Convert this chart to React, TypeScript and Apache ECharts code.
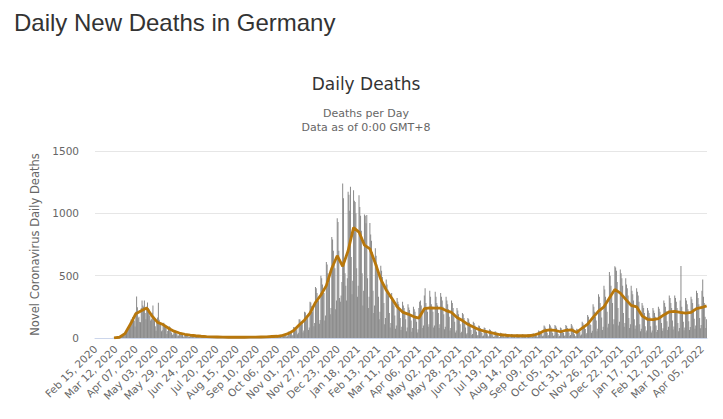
import * as echarts from 'echarts';
import React, { useEffect, useRef } from 'react';

// one row per week, each week starts on a Saturday (Feb 15, 2020)
const firstWave2020 = [
  0, 0, 0, 0, 0, 0, 0,
  0, 0, 0, 0, 0, 0, 0,
  0, 0, 0, 0, 0, 0, 0,
  0, 0, 2, 0, 1, 1, 3,
  3, 4, 5, 4, 8, 11, 23,
  24, 23, 29, 35, 49, 55, 72,
  84, 90, 104, 128, 149, 140, 168,
  169, 140, 92, 210, 333, 246, 160,
  171, 129, 126, 240, 301, 260, 250,
  300, 200, 150, 250, 285, 240, 230,
  179, 140, 150, 202, 260, 173, 160,
  94, 59, 139, 165, 282, 147, 118,
  110, 54, 62, 116, 123, 101, 90,
  77, 33, 56, 83, 95, 89, 57,
  43, 24, 30, 47, 62, 52, 38,
  30, 15, 20, 35, 40, 30, 32,
  24, 10, 12, 30, 33, 26, 21,
  18, 8, 9, 24, 26, 20, 17,
  14, 6, 7, 18, 20, 16, 13,
  11, 4, 5, 14, 15, 12, 10,
];

const summer2020 = [
  9, 3, 4, 11, 12, 9, 8,
  7, 2, 3, 9, 10, 8, 7,
  6, 2, 3, 8, 9, 7, 6,
  5, 1, 2, 7, 8, 6, 5,
  5, 1, 2, 7, 8, 6, 5,
  5, 1, 2, 6, 7, 6, 5,
  5, 1, 3, 7, 8, 6, 5,
  5, 2, 3, 8, 8, 7, 6,
  6, 2, 3, 9, 9, 8, 6,
  6, 2, 3, 9, 10, 8, 7,
  7, 2, 4, 11, 11, 9, 7,
  8, 3, 4, 12, 13, 11, 9,
  10, 3, 5, 16, 17, 14, 11,
  12, 4, 6, 20, 21, 17, 14,
];

const secondWave = [
  18, 6, 9, 32, 33, 27, 22,
  30, 10, 14, 50, 52, 44, 36,
  52, 18, 25, 88, 85, 75, 62,
  90, 30, 42, 150, 148, 130, 110,
  125, 45, 60, 210, 205, 180, 150,
  175, 65, 85, 290, 285, 255, 210,
  245, 95, 120, 410, 400, 360, 300,
  300, 115, 145, 500, 480, 430, 360,
  360, 140, 180, 610, 590, 520, 440,
  480, 190, 240, 810, 790, 700, 590,
  560, 230, 300, 960, 930, 700, 320,
  290, 340, 450, 1240, 1120, 630, 520,
  420, 300, 480, 1173, 1150, 1020, 1213,
  650, 350, 460, 1186, 1100, 1090, 1000,
  560, 330, 420, 1146, 1050, 980, 860,
  520, 260, 380, 990, 980, 920, 986,
  480, 240, 330, 922, 830, 780, 690,
  380, 200, 260, 720, 660, 590, 520,
  330, 150, 210, 580, 540, 490, 420,
  280, 110, 160, 470, 430, 390, 340,
  200, 85, 120, 360, 320, 300, 260,
  180, 75, 100, 320, 290, 270, 230,
  160, 65, 90, 290, 260, 240, 200,
  150, 55, 85, 270, 245, 225, 190,
  140, 50, 80, 250, 230, 210, 170,
];

const thirdWave = [
  130, 45, 70, 240, 290, 300, 260,
  200, 80, 100, 340, 400, 280, 240,
  210, 90, 110, 380, 330, 270, 250,
  210, 85, 100, 370, 330, 280, 260,
  200, 80, 110, 360, 330, 300, 250,
  190, 70, 90, 330, 300, 270, 230,
  170, 60, 80, 300, 280, 240, 200,
  130, 45, 60, 240, 220, 190, 150,
  110, 40, 50, 200, 190, 160, 130,
  85, 30, 40, 160, 150, 125, 100,
  65, 25, 32, 130, 120, 100, 80,
  50, 20, 25, 100, 95, 80, 65,
  40, 15, 20, 85, 80, 65, 50,
  30, 12, 15, 70, 65, 55, 40,
  22, 9, 12, 55, 50, 40, 30,
  17, 7, 9, 42, 38, 31, 24,
  15, 6, 8, 36, 33, 27, 21,
  13, 5, 7, 32, 30, 24, 19,
  12, 5, 7, 30, 28, 23, 18,
  12, 5, 7, 30, 28, 23, 18,
  13, 5, 7, 31, 29, 24, 19,
];

const fourthWave = [
  15, 6, 9, 38, 35, 29, 23,
  22, 9, 13, 60, 55, 45, 36,
  36, 15, 20, 100, 92, 78, 62,
  42, 17, 24, 110, 100, 85, 68,
  40, 16, 22, 105, 96, 82, 65,
  32, 13, 18, 85, 78, 65, 52,
  40, 16, 22, 105, 96, 80, 65,
  42, 17, 24, 112, 100, 85, 68,
  30, 12, 16, 75, 68, 58, 46,
  50, 20, 28, 130, 118, 100, 80,
  72, 30, 40, 185, 170, 145, 115,
  105, 42, 58, 270, 250, 210, 170,
  140, 55, 75, 350, 330, 280, 225,
  165, 65, 90, 420, 390, 330, 265,
  210, 85, 115, 530, 500, 420, 340,
  280, 110, 150, 575, 565, 540, 450,
  240, 100, 130, 550, 520, 480, 420,
  200, 90, 120, 480, 430, 400, 340,
  160, 80, 110, 420, 380, 350, 300,
  150, 75, 100, 400, 370, 340, 290,
  110, 55, 75, 280, 260, 240, 200,
  95, 45, 60, 240, 220, 200, 170,
  95, 45, 60, 240, 220, 200, 170,
  100, 48, 65, 250, 235, 210, 180,
  120, 58, 78, 300, 280, 250, 215,
  135, 65, 90, 340, 320, 280, 240,
  140, 68, 92, 340, 320, 290, 240,
  120, 55, 80, 300, 578, 250, 210,
  130, 62, 85, 320, 300, 270, 230,
  135, 65, 88, 330, 310, 280, 235,
  155, 75, 100, 380, 360, 320, 270,
  160, 78, 105, 380, 470, 330, 280,
  170, 80, 150,
];

// 7-day moving average, one value per week (shown mid-week)
const weeklyAverage = [
  null, null, null, 1, 6, 35, 110, 195, 218, 240,
  175, 125, 108, 78, 55, 40, 30, 23, 18, 14,
  11, 9, 8, 7, 6, 6, 6, 6, 7, 7,
  8, 9, 12, 14, 22, 35, 60, 105, 145, 200,
  285, 345, 420, 560, 660, 575, 700, 885, 850, 745,
  715, 600, 470, 385, 320, 250, 208, 192, 172, 160,
  235, 242, 240, 240, 220, 205, 165, 140, 110, 88,
  68, 55, 45, 35, 26, 22, 19, 18, 18, 18,
  22, 35, 58, 66, 62, 50, 62, 66, 45, 80,
  112, 165, 215, 250, 320, 390, 360, 310, 262, 250,
  178, 150, 148, 155, 185, 210, 213, 205, 200, 205,
  235, 245, 258,
];

const yTicks = [0, 500, 1000, 1500];

const MONTHS = ['Jan', 'Feb', 'Mar', 'Apr', 'May', 'Jun', 'Jul', 'Aug', 'Sep', 'Oct', 'Nov', 'Dec'];

const dailyDeaths = [...firstWave2020, ...summer2020, ...secondWave, ...thirdWave, ...fourthWave];

const dates: string[] = [];
const start = Date.UTC(2020, 1, 15);
for (let i = 0; i < dailyDeaths.length; i++) {
  const d = new Date(start + i * 86400000);
  dates.push(`${MONTHS[d.getUTCMonth()]} ${String(d.getUTCDate()).padStart(2, '0')}, ${d.getUTCFullYear()}`);
}

const App: React.FC = () => {
  const chartRef = useRef<HTMLDivElement>(null);

  useEffect(() => {
    if (!chartRef.current) return;
    const chart = echarts.init(chartRef.current, null, { renderer: 'svg' });

    const avgLine: (number | null)[] = dates.map(() => null);
    weeklyAverage.forEach((v, w) => {
      if (v !== null) avgLine[Math.min(w * 7 + 3, dates.length - 1)] = v;
    });

    const option: echarts.EChartsOption = {
      animation: false,
      title: [
        {
          text: 'Daily New Deaths in Germany',
          left: 14,
          top: 10,
          padding: 0,
          textStyle: { fontFamily: 'Liberation Sans', fontSize: 24, fontWeight: 'normal', color: '#333' },
        },
        {
          text: 'Daily Deaths',
          left: 366,
          top: 75,
          textAlign: 'center',
          padding: 0,
          textStyle: { fontFamily: 'DejaVu Sans', fontSize: 17, fontWeight: 'normal', color: '#333' },
        },
        {
          text: 'Deaths per Day\nData as of 0:00 GMT+8',
          left: 366,
          top: 106,
          textAlign: 'center',
          padding: 0,
          textStyle: { fontFamily: 'DejaVu Sans', fontSize: 11, fontWeight: 'normal', color: '#666', lineHeight: 14 },
        },
      ],
      grid: { left: 95, right: 16, top: 151, bottom: 81 },
      xAxis: {
        type: 'category',
        data: dates,
        axisLine: { lineStyle: { color: '#ccd6eb' } },
        axisTick: { show: false },
        axisLabel: {
          interval: 25,
          rotate: 45,
          margin: 9,
          color: '#666',
          fontFamily: 'DejaVu Sans',
          fontSize: 10.5,
        },
      },
      yAxis: {
        type: 'value',
        min: yTicks[0],
        max: yTicks[yTicks.length - 1],
        interval: 500,
        name: 'Novel Coronavirus Daily Deaths',
        nameLocation: 'middle',
        nameGap: 52,
        nameTextStyle: { fontFamily: 'DejaVu Sans', fontSize: 11.5, color: '#666' },
        axisLabel: {
          margin: 16,
          color: '#666',
          fontFamily: 'DejaVu Sans',
          fontSize: 10.5,
          formatter: (v: number) => String(v),
        },
        splitLine: { lineStyle: { color: '#e6e6e6' } },
      },
      series: [
        {
          name: 'Daily Deaths',
          type: 'bar',
          data: dailyDeaths,
          barCategoryGap: '0%',
          itemStyle: { color: '#8a8a8a' },
          silent: true,
        },
        {
          name: '7-day moving average',
          type: 'line',
          data: avgLine,
          connectNulls: true,
          symbol: 'none',
          silent: true,
          z: 3,
          lineStyle: { color: '#b8770b', width: 2.8 },
        },
      ],
    };

    chart.setOption(option);

    const handleResize = () => chart.resize();
    window.addEventListener('resize', handleResize);
    return () => {
      window.removeEventListener('resize', handleResize);
      chart.dispose();
    };
  }, []);

  return (
    <div
      ref={chartRef}
      style={{ position: 'absolute', left: 0, top: 0, width: '723px', height: '419px' }}
    />
  );
};

export default App;
